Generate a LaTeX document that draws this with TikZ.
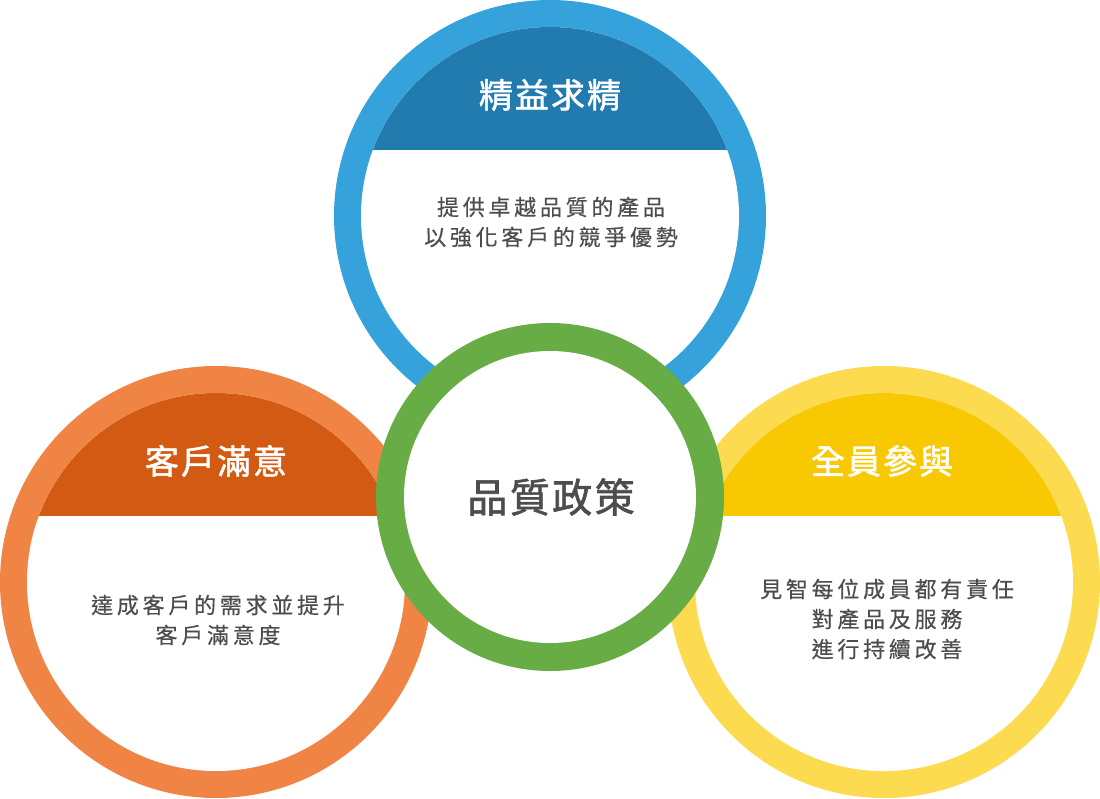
\documentclass[tikz,border=0pt]{standalone}
\usepackage{fontspec}
\newfontfamily\cjkbody[LetterSpace=17,FakeBold=0.4]{Noto Sans CJK TC}
\newfontfamily\cjktitle[LetterSpace=6,FakeBold=1.6]{Noto Sans CJK TC}
\definecolor{blueRing}{HTML}{35A2DC}
\definecolor{blueCap}{HTML}{217BAF}
\definecolor{orangeRing}{HTML}{F08444}
\definecolor{orangeCap}{HTML}{D35A12}
\definecolor{yellowRing}{HTML}{FDDB50}
\definecolor{yellowCap}{HTML}{F8C903}
\definecolor{greenRing}{HTML}{67AC45}
\definecolor{txtGray}{HTML}{4D4D4D}
\tikzset{
  captitle/.style={text=white, inner sep=0pt, font=\cjktitle\fontsize{34}{38}\selectfont},
  bodytext/.style={text=txtGray, inner sep=0pt, align=center, font=\cjkbody\fontsize{22}{30}\selectfont},
  centertext/.style={text=txtGray, inner sep=0pt, font=\cjktitle\fontsize{40}{44}\selectfont},
}
% ring with cap: #1 x, #2 y, #3 ring colour, #4 cap colour, #5 cap bottom y
\newcommand\capring[5]{%
  \fill[#3] (#1,#2) circle[radius=216];
  \fill[white] (#1,#2) circle[radius=189];
  \begin{scope}
    \clip (#1,#2) circle[radius=189];
    \fill[#4] (#1-200,#2-200) rectangle (#1+200,#5);
  \end{scope}}
\begin{document}
\begin{tikzpicture}[x=1pt,y=-1pt]
\useasboundingbox (0,0) rectangle (1100,798);
\capring{550}{216}{blueRing}{blueCap}{150}
\capring{216}{582}{orangeRing}{orangeCap}{516}
\capring{884}{582}{yellowRing}{yellowCap}{516}
% central ring
\fill[greenRing] (550,497) circle[radius=174];
\fill[white] (550,497) circle[radius=146];
% texts
\node[captitle] (t1) at (550,95) {精益求精};
\node[captitle] (t2) at (216,461) {客戶滿意};
\node[captitle] (t3) at (882,461) {全員參與};
\node[bodytext] (b1) at (551,222) {提供卓越品質的產品\\以強化客戶的競爭優勢};
\node[bodytext] (b2) at (218,620) {達成客戶的需求並提升\\客戶滿意度};
\node[bodytext] (b3) at (887,619) {見智每位成員都有責任\\對產品及服務\\進行持續改善};
\node[centertext] (c) at (551,497) {品質政策};
\end{tikzpicture}
\end{document}
